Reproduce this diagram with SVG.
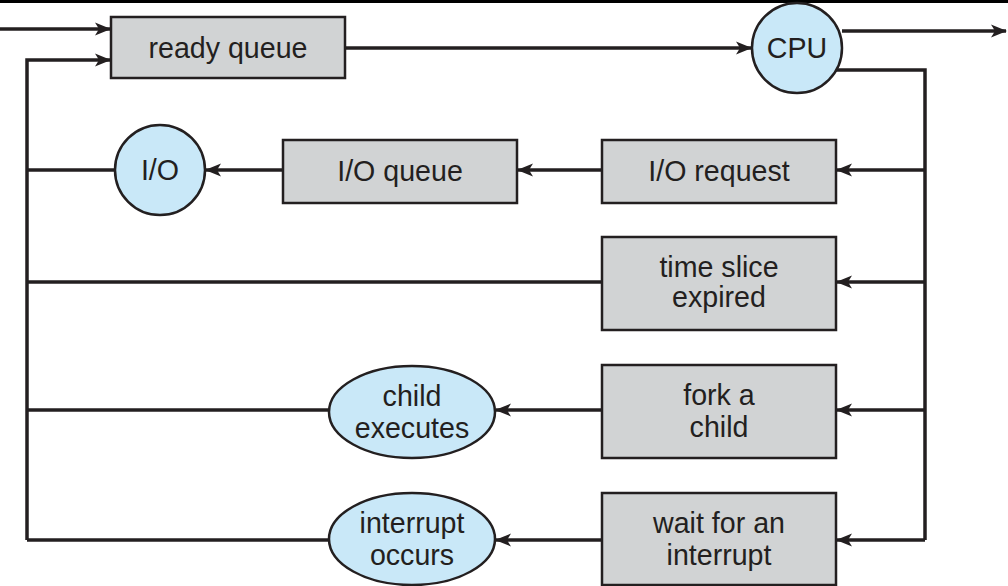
<svg xmlns="http://www.w3.org/2000/svg" width="1008" height="586" viewBox="0 0 1008 586">
<style>
.box{fill:#d1d3d4;stroke:#231f20;stroke-width:2.5}
.oval{fill:#c9e8f8;stroke:#231f20;stroke-width:2.5}
.ln{fill:none;stroke:#231f20;stroke-width:3.5}
text{font-family:"Liberation Sans",Arial,sans-serif;font-size:28.6px;fill:#231f20;text-anchor:middle}
</style>
<defs>
<marker id="ah" markerUnits="userSpaceOnUse" markerWidth="18" markerHeight="16" refX="15" refY="8" orient="auto">
<path d="M0,1.5 L16,8 L0,14.5 L4,8 z" fill="#231f20"/>
</marker>
</defs>
<rect x="0" y="0" width="1008" height="3" fill="#000"/>
<g id="connectors">
<path class="ln" d="M0,29 H110" marker-end="url(#ah)"/>
<path class="ln" d="M27,540 V60 H110" marker-end="url(#ah)"/>
<path class="ln" d="M345,48 H751" marker-end="url(#ah)"/>
<path class="ln" d="M842,31 H1006" marker-end="url(#ah)"/>
<path class="ln" d="M835,70 H925 V540"/>
<path class="ln" d="M925,170 H837" marker-end="url(#ah)"/>
<path class="ln" d="M925,282 H837" marker-end="url(#ah)"/>
<path class="ln" d="M925,410 H837" marker-end="url(#ah)"/>
<path class="ln" d="M925,540 H837" marker-end="url(#ah)"/>
<path class="ln" d="M602,170 H518" marker-end="url(#ah)"/>
<path class="ln" d="M283,170 H206" marker-end="url(#ah)"/>
<path class="ln" d="M602,410 H496" marker-end="url(#ah)"/>
<path class="ln" d="M602,540 H496" marker-end="url(#ah)"/>
<path class="ln" d="M602,282 H27"/>
<path class="ln" d="M329,410 H27"/>
<path class="ln" d="M329,540 H27"/>
<path class="ln" d="M115,170 H27"/>
</g>
<g id="ready-queue"><rect class="box" x="111" y="17" width="234" height="61"/><text x="228" y="58">ready queue</text></g>
<g id="cpu"><circle class="oval" cx="797" cy="48" r="45"/><text x="797" y="58">CPU</text></g>
<g id="io"><circle class="oval" cx="160" cy="170" r="45"/><text x="160" y="180">I/O</text></g>
<g id="io-queue"><rect class="box" x="283" y="140" width="234" height="63"/><text x="400" y="181">I/O queue</text></g>
<g id="io-request"><rect class="box" x="602" y="140" width="234" height="63"/><text x="719" y="181">I/O request</text></g>
<g id="time-slice"><rect class="box" x="602" y="237" width="234" height="93"/><text x="719" y="277">time slice</text><text x="719" y="307">expired</text></g>
<g id="fork-child"><rect class="box" x="602" y="365" width="234" height="93"/><text x="719" y="405">fork a</text><text x="719" y="437">child</text></g>
<g id="wait-interrupt"><rect class="box" x="602" y="493" width="234" height="92"/><text x="719" y="533">wait for an</text><text x="719" y="565">interrupt</text></g>
<g id="child-executes"><ellipse class="oval" cx="412" cy="412" rx="83" ry="46"/><text x="412" y="406">child</text><text x="412" y="438">executes</text></g>
<g id="interrupt-occurs"><ellipse class="oval" cx="412" cy="539" rx="83" ry="46"/><text x="412" y="533">interrupt</text><text x="412" y="565">occurs</text></g>
</svg>
